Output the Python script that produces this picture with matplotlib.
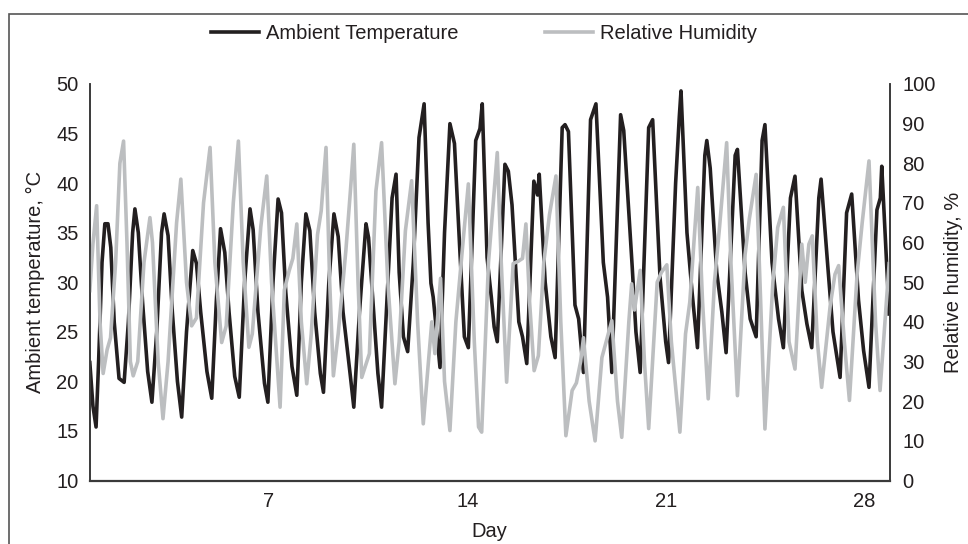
import matplotlib
matplotlib.use("Agg")
import matplotlib.pyplot as plt
from matplotlib.patches import Rectangle
from matplotlib.lines import Line2D

plt.rcParams['font.family'] = ['Liberation Sans', 'DejaVu Sans']

# ---- data ----
temp_day = [0.69, 0.80, 0.91, 1.00, 1.12, 1.22, 1.33, 1.43, 1.55, 1.72, 1.90, 2.05, 2.20, 2.28, 2.40, 2.55,
            2.73, 2.88, 3.05, 3.22, 3.31, 3.45, 3.60, 3.78, 3.93, 4.10, 4.32, 4.45, 4.60, 4.82, 4.99, 5.15,
            5.30, 5.45, 5.60, 5.80, 5.96, 6.15, 6.34, 6.45, 6.62, 6.85, 6.97, 7.15, 7.33, 7.45, 7.60, 7.82,
            7.99, 8.15, 8.31, 8.45, 8.62, 8.82, 8.93, 9.12, 9.30, 9.45, 9.62, 9.88, 10.00, 10.20, 10.43,
            10.52, 10.70, 10.85, 10.98, 11.20, 11.35, 11.49, 11.60, 11.75, 11.90, 12.10, 12.30, 12.48,
            12.62, 12.72, 12.80, 13.04, 13.20, 13.39, 13.55, 13.74, 13.90, 14.04, 14.30, 14.45, 14.53,
            14.70, 14.85, 14.95, 15.06, 15.33, 15.45, 15.58, 15.82, 15.95, 16.10, 16.35, 16.48, 16.54,
            16.75, 16.95, 17.10, 17.35, 17.45, 17.57, 17.80, 17.93, 18.10, 18.35, 18.54, 18.80, 18.95,
            19.10, 19.41, 19.52, 19.82, 19.95, 20.10, 20.40, 20.54, 20.80, 21.00, 21.10, 21.35, 21.48,
            21.54, 21.75, 21.93, 22.12, 22.38, 22.45, 22.57, 22.80, 22.98, 23.13, 23.45, 23.53, 23.80,
            23.98, 24.19, 24.40, 24.50, 24.75, 24.98, 25.15, 25.40, 25.56, 25.80, 25.98, 26.15, 26.40,
            26.48, 26.72, 26.90, 27.15, 27.38, 27.56, 27.80, 27.98, 28.17, 28.45, 28.57, 28.62, 28.88]
temp_val = [21.9, 17.5, 15.4, 22.0, 32.0, 35.9, 35.9, 33.5, 26.0, 20.3, 19.9, 26.0, 35.0, 37.4, 35.0, 28.0,
            21.0, 17.9, 25.0, 35.0, 36.9, 34.7, 27.0, 20.0, 16.4, 25.0, 33.2, 31.9, 27.0, 21.0, 18.3, 28.0,
            35.4, 33.0, 27.0, 20.5, 18.4, 30.0, 37.4, 35.3, 27.0, 19.8, 17.9, 30.0, 38.4, 37.0, 29.0, 21.5,
            18.6, 30.0, 36.9, 35.2, 27.0, 20.8, 18.9, 30.0, 36.9, 34.6, 27.0, 20.5, 17.4, 27.0, 35.9,
            34.5, 27.0, 20.8, 17.4, 30.0, 38.5, 40.9, 31.0, 24.5, 23.0, 32.0, 44.6, 48.0,
            36.0, 29.9, 28.5, 21.4, 35.0, 46.0, 44.0, 33.2, 24.5, 23.4, 44.3, 45.5, 48.0,
            32.5, 28.5, 25.5, 24.0, 41.9, 41.2, 37.8, 26.0, 24.5, 21.8, 40.2, 38.8, 40.9,
            30.0, 24.5, 22.4, 45.6, 45.9, 45.2, 27.7, 26.3, 20.9, 46.4, 48.0, 32.0, 28.5,
            20.9, 46.9, 45.3, 31.5, 25.0, 20.9, 45.6, 46.4, 30.5, 24.0, 21.9, 40.0, 46.7,
            49.3, 35.0, 29.0, 23.4, 42.8, 44.3, 41.5, 31.0, 27.0, 22.9, 42.8, 43.4, 31.0,
            26.3, 24.5, 44.3, 45.9, 32.0, 26.3, 23.4, 38.5, 40.7, 29.2, 25.8, 23.4, 38.5,
            40.4, 31.5, 25.0, 20.4, 37.0, 38.9, 28.2, 23.1, 19.4, 37.3, 38.5, 41.7, 26.8]

hum_day = [0.69, 0.80, 0.93, 1.05, 1.16, 1.30, 1.42, 1.60, 1.75, 1.88, 2.00, 2.12, 2.22, 2.38, 2.60, 2.81,
           2.90, 3.10, 3.27, 3.45, 3.75, 3.90, 4.10, 4.28, 4.45, 4.70, 4.93, 5.10, 5.34, 5.50, 5.75, 5.93,
           6.10, 6.30, 6.42, 6.72, 6.93, 7.10, 7.40, 7.55, 7.72, 7.85, 7.99, 8.15, 8.34, 8.50, 8.72, 8.85,
           9.02, 9.15, 9.28, 9.45, 9.72, 9.88, 10.00, 10.15, 10.28, 10.55, 10.78, 10.98, 11.20, 11.45,
           11.60, 11.82, 12.04, 12.25, 12.45, 12.75, 12.86, 13.06, 13.20, 13.39, 13.60, 13.85, 14.04,
           14.25, 14.40, 14.51, 14.75, 15.06, 15.20, 15.39, 15.62, 15.80, 15.95, 16.07, 16.20, 16.36,
           16.51, 16.70, 16.90, 17.13, 17.30, 17.48, 17.70, 17.85, 18.00, 18.10, 18.30, 18.51, 18.75,
           19.10, 19.30, 19.45, 19.70, 19.80, 19.90, 20.10, 20.25, 20.40, 20.70, 20.85, 21.04, 21.20,
           21.50, 21.70, 21.85, 22.13, 22.30, 22.50, 22.72, 22.90, 23.15, 23.30, 23.53, 23.80, 23.95,
           24.19, 24.35, 24.50, 24.78, 24.95, 25.15, 25.35, 25.56, 25.80, 25.92, 26.05, 26.17, 26.35,
           26.50, 26.80, 26.97, 27.10, 27.30, 27.48, 27.75, 27.93, 28.17, 28.40, 28.56, 28.88]
hum_val = [47.9, 59.7, 69.3, 40.0, 27.0, 33.0, 36.0, 55.0, 80.0, 85.6, 60.0, 30.0, 26.4, 30.0, 55.0, 66.3,
           60.0, 30.0, 15.6, 30.0, 65.0, 76.0, 50.0, 39.0, 41.0, 70.0, 84.0, 55.0, 34.8, 39.0, 70.0, 85.6,
           55.0, 33.6, 37.0, 64.0, 76.8, 50.0, 18.5, 48.0, 52.9, 56.0, 64.7, 40.0, 24.4, 37.0, 62.0, 68.0,
           84.0, 50.0, 26.4, 37.0, 58.0, 73.0, 84.8, 50.0, 26.0, 32.0, 73.0, 85.2, 50.0, 24.4,
           35.0, 63.0, 75.6, 40.0, 14.3, 40.0, 32.0, 51.0, 25.0, 12.6, 40.0, 60.0, 74.8,
           35.0, 13.5, 12.2, 55.0, 82.7, 55.0, 24.8, 54.7, 55.3, 56.0, 64.7, 45.0, 27.7,
           31.5, 55.0, 67.0, 76.8, 40.0, 11.3, 22.7, 24.6, 30.0, 36.0, 20.0, 10.0, 31.0,
           40.3, 20.0, 10.9, 40.0, 49.6, 43.0, 53.0, 30.0, 13.1, 50.0, 52.5, 54.4, 35.0,
           12.2, 37.0, 45.0, 73.9, 45.0, 20.6, 50.0, 64.0, 85.2, 55.0, 21.4, 57.0, 66.0,
           77.2, 45.0, 13.0, 50.0, 63.8, 68.9, 35.0, 28.1, 59.6, 50.0, 59.6, 61.7, 35.0,
           23.5, 44.0, 52.0, 54.2, 35.0, 20.2, 52.0, 65.0, 80.6, 40.0, 22.7, 54.7]

temp_ticks = [10, 15, 20, 25, 30, 35, 40, 45, 50]
hum_ticks = [0, 10, 20, 30, 40, 50, 60, 70, 80, 90, 100]
day_ticks = [7, 14, 21, 28]

TEMP_COLOR = '#231f20'
HUM_COLOR = '#bcbec0'
FS = 14.5

fig = plt.figure(figsize=(9.68, 5.44), dpi=100)
ax = fig.add_axes([0.0925, 0.1167, 0.8269, 0.7289])
ax2 = ax.twinx()

ax.plot(temp_day, temp_val, color=TEMP_COLOR, lw=2.6, solid_joinstyle='round')
ax2.plot(hum_day, hum_val, color=HUM_COLOR, lw=2.6, solid_joinstyle='round')

ax.set_xlim(0.68, 28.91)
ax.set_ylim(10, 50)
ax2.set_ylim(0, 100)
ax.set_xticks(day_ticks)
ax.set_yticks(temp_ticks)
ax2.set_yticks(hum_ticks)

ax.tick_params(axis='both', length=0, labelsize=FS, colors='#231f20')
ax.tick_params(axis='y', pad=8)
ax.tick_params(axis='x', pad=8)
ax2.tick_params(axis='y', length=0, labelsize=FS, pad=9, colors='#231f20')

for a in (ax, ax2):
    a.spines['top'].set_visible(False)
    for s in ('left', 'right', 'bottom'):
        a.spines[s].set_color('#3a3a3a')
        a.spines[s].set_linewidth(1.2)
ax.spines['bottom'].set_linewidth(1.6)

ax.set_xlabel('Day', fontsize=FS, color='#231f20', labelpad=8)
ax.set_ylabel('Ambient temperature, °C', fontsize=FS, color='#231f20', labelpad=8)
ax2.set_ylabel('Relative humidity, %', fontsize=FS, color='#231f20', labelpad=6)

handles = [Line2D([], [], color=TEMP_COLOR, lw=2.6), Line2D([], [], color=HUM_COLOR, lw=2.6)]
fig.legend(handles, ['Ambient Temperature', 'Relative Humidity'], loc='center',
           bbox_to_anchor=(0.5, 0.939), ncol=2, frameon=False, fontsize=FS,
           handlelength=2.4, handletextpad=0.35, columnspacing=4.3, labelcolor='#231f20')

border = Rectangle((9 / 968, -0.2), 2.0, 1.2 - 14 / 544, transform=fig.transFigure,
                   fill=False, edgecolor='#555555', lw=1.2, clip_on=False)
fig.patches.append(border)

fig.savefig('out.png', dpi=100)
